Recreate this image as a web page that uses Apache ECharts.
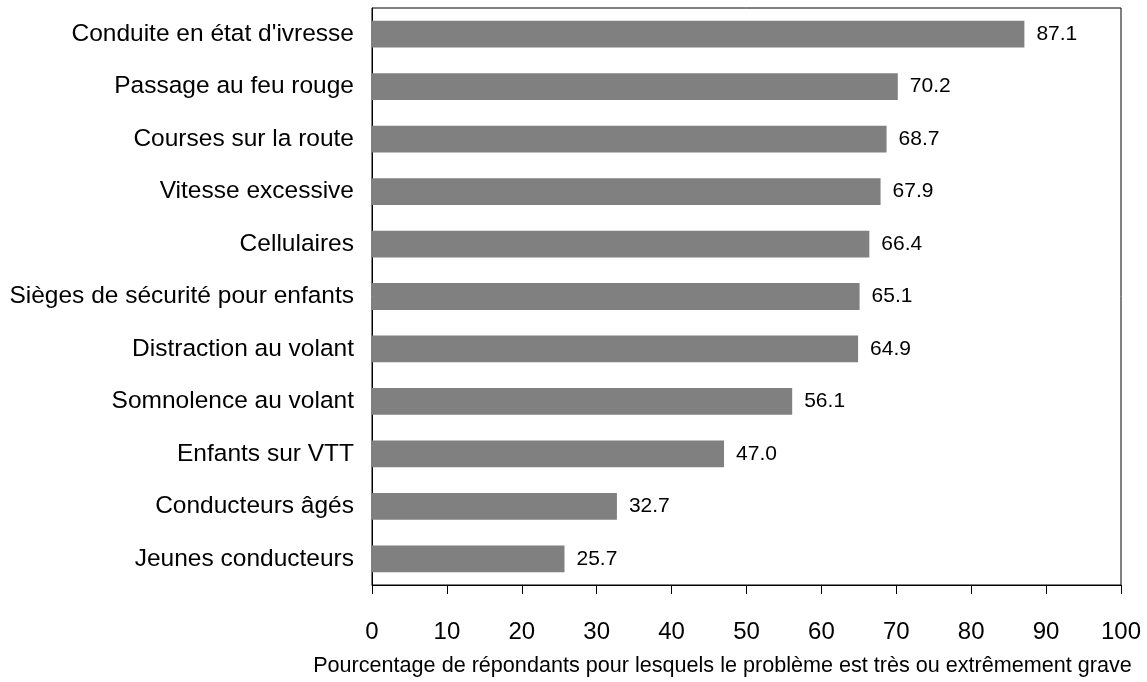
<!DOCTYPE html>
<html><head><meta charset="utf-8">
<script src="https://cdn.jsdelivr.net/npm/echarts@6/dist/echarts.min.js"></script>
<style>html,body{margin:0;padding:0;background:#fff}#c{width:1147px;height:682px}</style>
</head><body><div id="c"></div>
<script>
const categories = ["Conduite en état d'ivresse","Passage au feu rouge","Courses sur la route","Vitesse excessive","Cellulaires","Sièges de sécurité pour enfants","Distraction au volant","Somnolence au volant","Enfants sur VTT","Conducteurs âgés","Jeunes conducteurs"];
const values = [87.1,70.2,68.7,67.9,66.4,65.1,64.9,56.1,47.0,32.7,25.7];
const xTitle = "Pourcentage de répondants pour lesquels le problème est très ou extrêmement grave";
const font = "'Liberation Sans', Arial, sans-serif";
const chart = echarts.init(document.getElementById('c'));
chart.setOption({
  animation:false,
  grid:{left:372,right:26,top:8,bottom:91,show:true,borderColor:'#000',borderWidth:1,backgroundColor:'transparent'},
  xAxis:{type:'value',min:0,max:100,interval:10,
    name:xTitle,nameLocation:'middle',nameGap:70,
    nameTextStyle:{fontFamily:font,fontSize:21.6,color:'#000',padding:[0,48,0,0]},
    axisLine:{show:true,lineStyle:{color:'#000',width:1}},
    axisTick:{show:true,length:9,lineStyle:{color:'#000'}},
    axisLabel:{fontFamily:font,fontSize:24,color:'#000',margin:35},
    splitLine:{show:false}},
  yAxis:{type:'category',data:categories.slice().reverse(),
    axisLine:{show:true,lineStyle:{color:'#000',width:1}},
    axisTick:{show:false},
    axisLabel:{fontFamily:font,fontSize:24.5,color:'#000',margin:18}},
  series:[{type:'bar',data:values.slice().reverse(),barWidth:'51%',
    itemStyle:{color:'#808080'},
    label:{show:true,position:'right',distance:12,fontFamily:font,fontSize:21,color:'#000',
      formatter:p=>p.value.toFixed(1)}}]
});
</script></body></html>
